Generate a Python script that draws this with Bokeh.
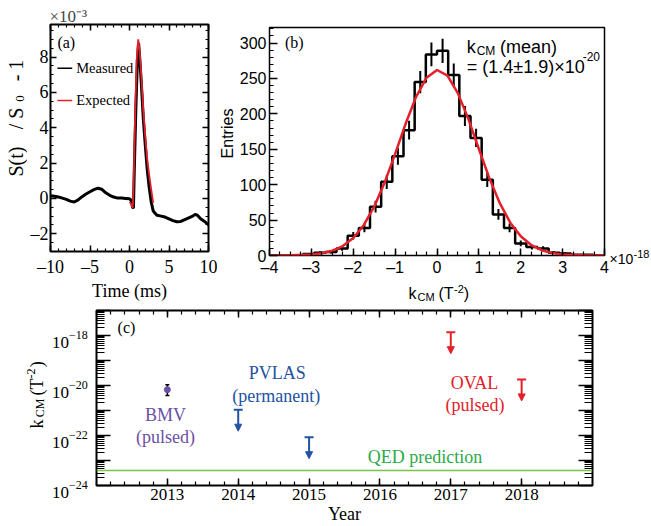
import numpy as np
from bokeh.plotting import figure
from bokeh.layouts import column, row
from bokeh.models import (Range1d, LinearAxis, LogAxis, FixedTicker, Label, Arrow,
                          NormalHead, Span, CustomJSTickFormatter)
from bokeh.embed import file_html
from bokeh.resources import INLINE

# ---------------- data ----------------
# (a) signal S(t)/S0 - 1 (units 1e-3) versus time (ms)
TIME_MS = [-10, -9.5, -9, -8.5, -8, -7.5, -7, -6.5, -6, -5.5, -5, -4.5, -4, -3.5, -3, -2.5,
           -2, -1.5, -1, -0.5, 0, 0.2, 0.4, 0.5, 0.6, 0.8, 1.0, 1.15, 1.3, 1.5, 1.75, 2.0,
           2.25, 2.5, 2.75, 3.0, 3.25, 3.5, 4.0, 4.5, 5.0, 5.5, 6.0, 6.5, 7.0, 7.5, 8.0,
           8.3, 8.6, 9.0, 9.5, 10.0]
MEASURED = [0.15, 0.12, 0.08, 0.02, -0.05, -0.15, -0.2, -0.08, 0.1, 0.25, 0.38, 0.5, 0.58, 0.52, 0.32, 0.18,
            0.08, 0.02, 0.02, 0.0, -0.02, -0.1, -0.5, -0.55, 1.5, 5.0, 7.8, 8.8, 7.9, 6.5, 4.5, 3.0,
            1.6, 0.6, -0.2, -0.7, -0.85, -0.95, -1.0, -1.05, -1.15, -1.25, -1.32, -1.3, -1.2, -1.1, -1.0,
            -0.9, -0.95, -1.15, -1.3, -1.5]
EXP_TIME = [0, 0.2, 0.4, 0.5, 0.7, 0.9, 1.1, 1.3, 1.5, 1.75, 2.0, 2.25, 2.5, 2.75, 3.0]
EXPECTED = [-0.2, -0.3, -0.55, 0.5, 4.5, 7.8, 9.0, 8.3, 6.9, 5.0, 3.5, 2.2, 1.3, 0.5, -0.25]

# (b) histogram of k_CM (x1e-18 T^-2): 30 bins from -4 to 4
BIN_LO, BIN_HI = -4.0, 4.0
COUNTS = [0, 0, 0, 2, 4, 5, 10, 28, 39, 69, 104, 140, 177, 245, 284,
          289, 255, 197, 166, 107, 58, 39, 17, 12, 10, 4, 3, 1, 1, 0]
ERRORS = [0, 0, 0, 1.4, 2.0, 2.2, 3.2, 5.3, 6.2, 8.3, 10.2, 11.8, 13.3, 15.7, 16.9,
          17.0, 16.0, 14.0, 12.9, 10.3, 7.6, 6.2, 4.1, 3.5, 3.2, 2.0, 1.7, 1.0, 1.0, 0]
FIT_X = [-4, -3.5, -3, -2.75, -2.5, -2.25, -2, -1.75, -1.5, -1.25, -1, -0.75, -0.5, -0.25, 0,
         0.25, 0.5, 0.75, 1, 1.25, 1.5, 1.75, 2, 2.25, 2.5, 2.75, 3, 3.5, 4]
FIT_Y = [0.0, 0.2, 1.3, 3.1, 6.7, 13.3, 24.8, 42.8, 68.9, 103, 143.6, 186, 224, 251, 262,
         254, 229, 192.6, 150.4, 109.3, 73.9, 46.4, 27.2, 14.8, 7.5, 3.5, 1.5, 0.2, 0.0]

# (c) k_CM results by year (T^-2)
BMV_YEAR = [2013]
BMV_VALUE = [6.8e-21]
BMV_LOW = [4.0e-21]
BMV_HIGH = [1.07e-20]
PVLAS_YEAR = [2014, 2015]
PVLAS_LIMIT = [1.07e-21, 8.5e-23]
OVAL_YEAR = [2017, 2018]
OVAL_LIMIT = [1.35e-18, 1.74e-20]
QED_KCM = 4.0e-24
YEAR_TICKS = [2013, 2014, 2015, 2016, 2017, 2018]
LOG_LABEL_EXPONENTS = [-24, -22, -20, -18]

# ---------------- layout constants (page pixels) ----------------
SERIF = "Liberation Serif"
SANS = "Liberation Sans"
FA = dict(left=48, right=208, top=24, bottom=257)
FB = dict(left=266, right=604, top=27, bottom=257)
FC = dict(left=96, right=592, top=310, bottom=485)
A_X, A_Y = (-10.0, 10.0), (-3.0, 9.84)
B_X, B_Y = (-4.0, 4.0), (0.0, 322.0)
C_X, C_LOGY = (2012.0, 2019.0), (-24.0, -17.0)
ARROW_DROP = 7.2
ROT = np.pi / 2
TOP_H = 303

RED = "#e3202a"
BLUE = "#2452a3"
PURPLE = "#6a50a6"


def lin(pv, p0, p1, v0, v1):
    return v0 + (pv - p0) / (p1 - p0) * (v1 - v0)


def conv_a(px, py):
    return lin(px, FA["left"], FA["right"], *A_X), lin(py, FA["bottom"], FA["top"], *A_Y)


def conv_b(px, py):
    return lin(px, FB["left"], FB["right"], *B_X), lin(py, FB["bottom"], FB["top"], *B_Y)


def conv_c(px, py):
    return lin(px, FC["left"], FC["right"], *C_X), 10 ** lin(py, FC["bottom"], FC["top"], *C_LOGY)


def page(px, py):
    return px, py


def lab(p, conv, px, py, text, size, font=SERIF, color="black", align="center",
        baseline="middle", angle=0.0):
    x, y = conv(px, py)
    p.add_layout(Label(x=x, y=y, text=text, text_font=font, text_font_size=f"{size}px",
                       text_color=color, text_align=align, text_baseline=baseline, angle=angle))


EMPTY_FMT = CustomJSTickFormatter(code="return '';")
DASH_FMT = CustomJSTickFormatter(code="return tick < 0 ? '\u2013' + Math.abs(tick) : String(tick);")
YEAR_FMT = CustomJSTickFormatter(code="return tick.toFixed(0);")


def style_axis(ax, font, size, tick_in, minor_in, standoff, show=True):
    ax.major_tick_in = tick_in
    ax.major_tick_out = 0
    ax.minor_tick_in = minor_in
    ax.minor_tick_out = 0
    ax.major_tick_line_width = 1.5
    ax.minor_tick_line_width = 1.2
    ax.major_tick_line_color = "black"
    ax.minor_tick_line_color = "black"
    ax.axis_line_color = None
    ax.major_label_text_font = font
    ax.major_label_text_color = "black"
    ax.axis_label_text_font = font
    ax.axis_label_text_font_style = "normal"
    ax.axis_label_text_color = "black"
    if show:
        ax.major_label_text_font_size = f"{size}px"
        ax.major_label_standoff = standoff
    else:
        ax.formatter = EMPTY_FMT
        ax.major_label_text_font_size = "1px"
        ax.major_label_standoff = 0


def base_fig(w, h, frame, ox, oy, xr, yr, ytype="linear"):
    p = figure(width=w, height=h, x_range=Range1d(*xr), y_range=Range1d(*yr), y_axis_type=ytype,
               output_backend="svg", toolbar_location=None, frame_align=False,
               min_border_left=frame["left"] - ox, min_border_right=ox + w - frame["right"],
               min_border_top=frame["top"] - oy, min_border_bottom=oy + h - frame["bottom"])
    p.grid.visible = False
    p.outline_line_color = "black"
    p.outline_line_width = 2
    p.background_fill_color = "white"
    p.border_fill_color = "white"
    return p


def strip(x0, y0, w, h):
    s = figure(width=w, height=h, x_range=Range1d(x0, x0 + w), y_range=Range1d(y0 + h, y0),
               output_backend="svg", toolbar_location=None, min_border=0, frame_align=False,
               x_axis_location=None, y_axis_location=None)
    s.title.visible = False
    s.grid.visible = False
    s.outline_line_color = None
    s.background_fill_color = "white"
    s.border_fill_color = "white"
    return s


# ================= panel (a) =================
fa = base_fig(190, TOP_H, FA, 27, 0, A_X, A_Y)
xt_a = FixedTicker(ticks=[-10, -5, 0, 5, 10], minor_ticks=list(range(-10, 11)))
yt_a = FixedTicker(ticks=[-2, 0, 2, 4, 6, 8], minor_ticks=list(np.arange(-3, 10, 0.5)))
fa.xaxis[0].ticker = xt_a
fa.xaxis[0].formatter = DASH_FMT
fa.yaxis[0].ticker = yt_a
fa.yaxis[0].formatter = DASH_FMT
style_axis(fa.xaxis[0], SERIF, 18, 6, 3, 5)
style_axis(fa.yaxis[0], SERIF, 18, 6, 3, 2)
fa.xaxis[0].axis_label = "Time (ms)"
fa.xaxis[0].axis_label_text_font_size = "18px"
fa.xaxis[0].axis_label_standoff = 1
top_a = LinearAxis(ticker=xt_a)
style_axis(top_a, SERIF, 18, 6, 3, 0, show=False)
fa.add_layout(top_a, "above")
right_a = LinearAxis(ticker=yt_a)
style_axis(right_a, SERIF, 18, 6, 3, 0, show=False)
fa.add_layout(right_a, "right")
fa.title.text = "\u00d710\u207b\u00b3"
fa.title.text_font = SERIF
fa.title.text_font_size = "17px"
fa.title.text_font_style = "normal"
fa.title.align = "left"
fa.title.standoff = -3
fa.title.offset = -1

fa.line(TIME_MS, MEASURED, line_color="black", line_width=3)
fa.line(EXP_TIME, EXPECTED, line_color=RED, line_width=1.8)

for py, col in [(69, "black"), (102, RED)]:
    x0, y0 = conv_a(55, py)
    x1, _ = conv_a(70, py)
    fa.segment(x0=[x0], y0=[y0], x1=[x1], y1=[y0], line_color=col, line_width=1.5)
lab(fa, conv_a, 74, 69, "Measured", 14.5, align="left")
lab(fa, conv_a, 74, 102, "Expected", 14.5, align="left")
lab(fa, conv_a, 64, 42, "(a)", 16)

sa_y = strip(0, 0, 27, TOP_H)
lab(sa_y, page, 15.5, 161, "S(t)", 20, angle=ROT)
lab(sa_y, page, 15.5, 118, "/ S", 20, angle=ROT)
lab(sa_y, page, 19.5, 98, "0", 13, angle=ROT)
lab(sa_y, page, 15.5, 70, "- 1", 20, angle=ROT)

# ================= panel (b) =================
fb = base_fig(373, 278, FB, 236, 0, B_X, B_Y)
fb.xaxis[0].ticker = FixedTicker(ticks=list(range(-4, 5)), minor_ticks=list(np.arange(-4, 4.01, 0.25)))
fb.xaxis[0].formatter = DASH_FMT
fb.yaxis[0].ticker = FixedTicker(ticks=[0, 50, 100, 150, 200, 250, 300], minor_ticks=list(range(0, 330, 10)))
style_axis(fb.xaxis[0], SANS, 16, 7, 4, 3)
style_axis(fb.yaxis[0], SANS, 16, 8, 4, 3)
fb.outline_line_width = 1.5

nb = len(COUNTS)
edges = BIN_LO + (BIN_HI - BIN_LO) * np.arange(nb + 1) / nb
centers = 0.5 * (edges[:-1] + edges[1:])
counts = np.array(COUNTS, dtype=float)
errs = np.array(ERRORS, dtype=float)
fb.step(x=list(edges), y=list(counts) + [counts[-1]], mode="after", line_color="black", line_width=2.5)
mask = counts > 0
fb.segment(x0=centers[mask], y0=(counts - errs)[mask], x1=centers[mask], y1=(counts + errs)[mask],
           line_color="black", line_width=2)
fb.line(FIT_X, FIT_Y, line_color=RED, line_width=2.5)

lab(fb, conv_b, 291, 42, "(b)", 16)
lab(fb, conv_b, 465, 46.7, "k", 18, font=SANS, align="left", baseline="alphabetic")
lab(fb, conv_b, 475, 50.5, "CM", 12, font=SANS, align="left", baseline="alphabetic")
lab(fb, conv_b, 498.5, 46.7, "(mean)", 18, font=SANS, align="left", baseline="alphabetic")
lab(fb, conv_b, 465, 66.7, "= (1.4\u00b11.9)\u00d710", 18, font=SANS, align="left", baseline="alphabetic")
lab(fb, conv_b, 582, 56, "-20", 12, font=SANS, align="left", baseline="alphabetic")

sb_y = strip(217, 0, 19, TOP_H)
lab(sb_y, page, 226.5, 133, "Entries", 16, font=SANS, angle=ROT)

sb_r = strip(609, 0, 42, 278)
lab(sb_r, page, 609, 258.3, "\u00d710", 14, font=SANS, align="left", baseline="alphabetic")
lab(sb_r, page, 633, 253, "-18", 11, font=SANS, align="left", baseline="alphabetic")

sb_bot = strip(236, 278, 415, TOP_H - 278)
lab(sb_bot, page, 408, 293.3, "k", 16, font=SANS, align="left", baseline="alphabetic")
lab(sb_bot, page, 417, 296.7, "CM", 11, font=SANS, align="left", baseline="alphabetic")
lab(sb_bot, page, 438, 293.3, "(T", 16, font=SANS, align="left", baseline="alphabetic")
lab(sb_bot, page, 453.5, 288, "-2", 11, font=SANS, align="left", baseline="alphabetic")
lab(sb_bot, page, 463.3, 293.3, ")", 16, font=SANS, align="left", baseline="alphabetic")

# ================= panel (c) =================
fc = base_fig(561, 526 - TOP_H, FC, 90, TOP_H, C_X, (1e-24, 1e-17), ytype="log")
decades = list(range(-24, -16))
major_c = [float(f"1e{e}") for e in decades]
minor_c = [m * float(f"1e{e}") for e in decades[:-1] for m in range(2, 10)]
yt_c = FixedTicker(ticks=major_c, minor_ticks=minor_c)
xt_c = FixedTicker(ticks=YEAR_TICKS, minor_ticks=list(np.arange(2012, 2019.01, 0.2)))
fc.xaxis[0].ticker = xt_c
fc.xaxis[0].formatter = YEAR_FMT
fc.yaxis[0].ticker = yt_c
style_axis(fc.xaxis[0], SERIF, 17, 7, 4, 3)
fc.xaxis[0].axis_label = "Year"
fc.xaxis[0].axis_label_text_font_size = "18px"
fc.xaxis[0].axis_label_standoff = 1
style_axis(fc.yaxis[0], SERIF, 17, 14, 8, 0, show=False)
top_c = LinearAxis(ticker=xt_c)
style_axis(top_c, SERIF, 17, 7, 4, 0, show=False)
fc.add_layout(top_c, "above")
right_c = LogAxis(ticker=yt_c)
style_axis(right_c, SERIF, 17, 14, 8, 0, show=False)
fc.add_layout(right_c, "right")

fc.add_layout(Span(location=QED_KCM, dimension="width", line_color="#7cc24a", line_width=1.5))

fc.segment(x0=BMV_YEAR, y0=BMV_LOW, x1=BMV_YEAR, y1=BMV_HIGH, line_color="black", line_width=1.5)
fc.scatter(BMV_YEAR * 2, BMV_LOW + BMV_HIGH, marker="dash", size=4, line_color="black", line_width=1.5)
fc.scatter(BMV_YEAR, BMV_VALUE, marker="circle", size=6, fill_color=PURPLE, line_color=PURPLE)

for years, limits, col in [(PVLAS_YEAR, PVLAS_LIMIT, BLUE), (OVAL_YEAR, OVAL_LIMIT, RED)]:
    fc.scatter(years, limits, marker="dash", size=9, line_color=col, line_width=2)
    for yr, lim in zip(years, limits):
        fc.add_layout(Arrow(end=NormalHead(size=7, fill_color=col, line_color=col, line_width=1),
                            x_start=yr, y_start=lim, x_end=yr, y_end=lim / ARROW_DROP,
                            line_color=col, line_width=2))

lab(fc, conv_c, 126, 327, "(c)", 16)
lab(fc, conv_c, 165, 414, "BMV", 18, color=PURPLE)
lab(fc, conv_c, 165, 436, "(pulsed)", 18, color=PURPLE)
lab(fc, conv_c, 276.7, 372.8, "PVLAS", 18, color=BLUE)
lab(fc, conv_c, 275.8, 395, "(permanent)", 18, color=BLUE)
lab(fc, conv_c, 474, 382.7, "OVAL", 18, color=RED)
lab(fc, conv_c, 474.5, 404, "(pulsed)", 18, color=RED)
lab(fc, conv_c, 424.5, 456.3, "QED prediction", 18, color="#2aab48")

sc_y = strip(0, TOP_H, 90, 526 - TOP_H)
lab(sc_y, page, 36, 428, "k", 18, align="left", baseline="alphabetic", angle=ROT)
lab(sc_y, page, 39.5, 416.7, "CM", 12, align="left", baseline="alphabetic", angle=ROT)
lab(sc_y, page, 36, 395, "(T", 18, align="left", baseline="alphabetic", angle=ROT)
lab(sc_y, page, 30, 378, "-2", 12, align="left", baseline="alphabetic", angle=ROT)
lab(sc_y, page, 36, 366.7, ")", 18, align="left", baseline="alphabetic", angle=ROT)
for e in LOG_LABEL_EXPONENTS:
    ty = FC["bottom"] - (e - C_LOGY[0]) / (C_LOGY[1] - C_LOGY[0]) * (FC["bottom"] - FC["top"])
    lab(sc_y, page, 51.5, ty + 7, "10", 17, align="left", baseline="alphabetic")
    lab(sc_y, page, 68.5, ty - 0.5, "\u2212" + str(abs(e)), 12, align="left", baseline="alphabetic")

panel_a = row(sa_y, fa)
panel_b = row(sb_y, column(row(fb, sb_r), sb_bot))
panel_c = row(sc_y, fc)
layout = column(row(panel_a, panel_b), panel_c)

with open("out.html", "w", encoding="utf-8") as f:
    f.write(file_html(layout, INLINE))
